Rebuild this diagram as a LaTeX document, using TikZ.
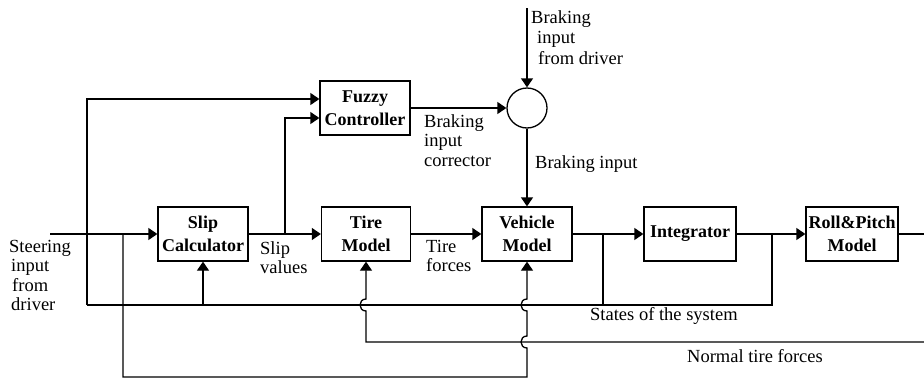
\documentclass[tikz,border=0pt]{standalone}
\usepackage{fontspec}
\setmainfont{Liberation Serif}
\usetikzlibrary{arrows.meta}
\begin{document}
\begin{tikzpicture}[x=1pt,y=-1pt,
  blk/.style={draw, line width=1.3pt, minimum width=90pt, minimum height=54pt, inner sep=0pt, align=center, font=\fontsize{18}{23}\selectfont\bfseries},
  lbl/.style={inner sep=0pt, align=left, font=\fontsize{18.5}{19.5}\selectfont},
  conn/.style={line width=1.3pt},
  arr/.style={conn, -{Triangle[length=9pt,width=12pt]}},
]
\useasboundingbox (0,0) rectangle (924,378);
% blocks
\node[blk] (slip) at (203,234) {Slip\\Calculator};
\node[blk, minimum width=89pt] (tire) at (366,234) {Tire\\Model};
\node[blk] (veh) at (527,234) {Vehicle\\Model};
\node[blk, minimum width=92pt] (integ) at (690,234) {Integrator};
\node[blk, minimum width=92pt] (roll) at (852,234) {Roll\&Pitch\\Model};
\node[blk] (fuzzy) at (365,108) {Fuzzy\\Controller};
\node[draw, circle, line width=1.3pt, minimum size=40pt, inner sep=0pt] (sum) at (527,108) {};
% coordinates
\coordinate (sin) at (50,234);
\coordinate (j2) at (123,234);
\coordinate (f1) at (87,99);
\coordinate (bl) at (87,305);
\coordinate (s1) at (203,305);
\coordinate (s2) at (603,305);
\coordinate (s2t) at (603,234);
\coordinate (s3) at (772,305);
\coordinate (s3t) at (772,234);
\coordinate (jv) at (285,234);
\coordinate (jvt) at (285,118);
\coordinate (bin) at (527,8);
\coordinate (ntR) at (924,342);
\coordinate (ntL) at (366,342);
\coordinate (stB) at (123,377);
\coordinate (stC) at (527,377);
\coordinate (out) at (924,234);
% connectors
\draw[arr] (sin) -- (slip.west);
\draw[arr] (bl) -- (f1) -- (fuzzy.west |- f1);
\draw[conn] (bl) -- (s3) -- (s3t);
\draw[arr] (s1) -- (slip.south);
\draw[conn] (s2) -- (s2t);
\draw[arr] (slip.east) -- (tire.west);
\draw[arr] (jv) -- (jvt) -- (fuzzy.west |- jvt);
\draw[arr] (tire.east) -- (veh.west);
\draw[arr] (veh.east) -- (integ.west);
\draw[arr] (integ.east) -- (roll.west);
\draw[conn] (roll.east) -- (out);
\draw[arr] (fuzzy.east) -- (sum.west);
\draw[arr] (bin) -- (sum.north);
\draw[arr] (sum.south) -- (veh.north);
\draw[arr] (ntR) -- (ntL) -- (366,311) .. controls (358,311) and (358,299) .. (366,299) -- (tire.south);
\draw[arr] (j2) -- (stB) -- (stC) -- (527,348) .. controls (519,348) and (519,336) .. (527,336) -- (527,311) .. controls (519,311) and (519,299) .. (527,299) -- (veh.south);
% labels
\node[lbl, anchor=north west] (steer) at (9,240) {Steering\\\hspace{2pt}input\\\hspace{3pt}from\\\hspace{2pt}driver};
\node[lbl, anchor=north west] (slipv) at (260,241) {Slip\\values};
\node[lbl, anchor=north west] (tiref) at (426,240) {Tire\\forces};
\node[lbl, anchor=north west] (bic) at (424,114) {Braking\\input\\corrector};
\node[lbl, anchor=north west, font=\fontsize{18.5}{20.5}\selectfont] (bid) at (531,10) {Braking\\\hspace{6pt}input\\\hspace{7pt}from driver};
\node[lbl, anchor=base west] (bi) at (535,168) {Braking input};
\node[lbl, anchor=base west] (states) at (590,320) {States of the system};
\node[lbl, anchor=base west] (ntf) at (687,362) {Normal tire forces};
\end{tikzpicture}
\end{document}
